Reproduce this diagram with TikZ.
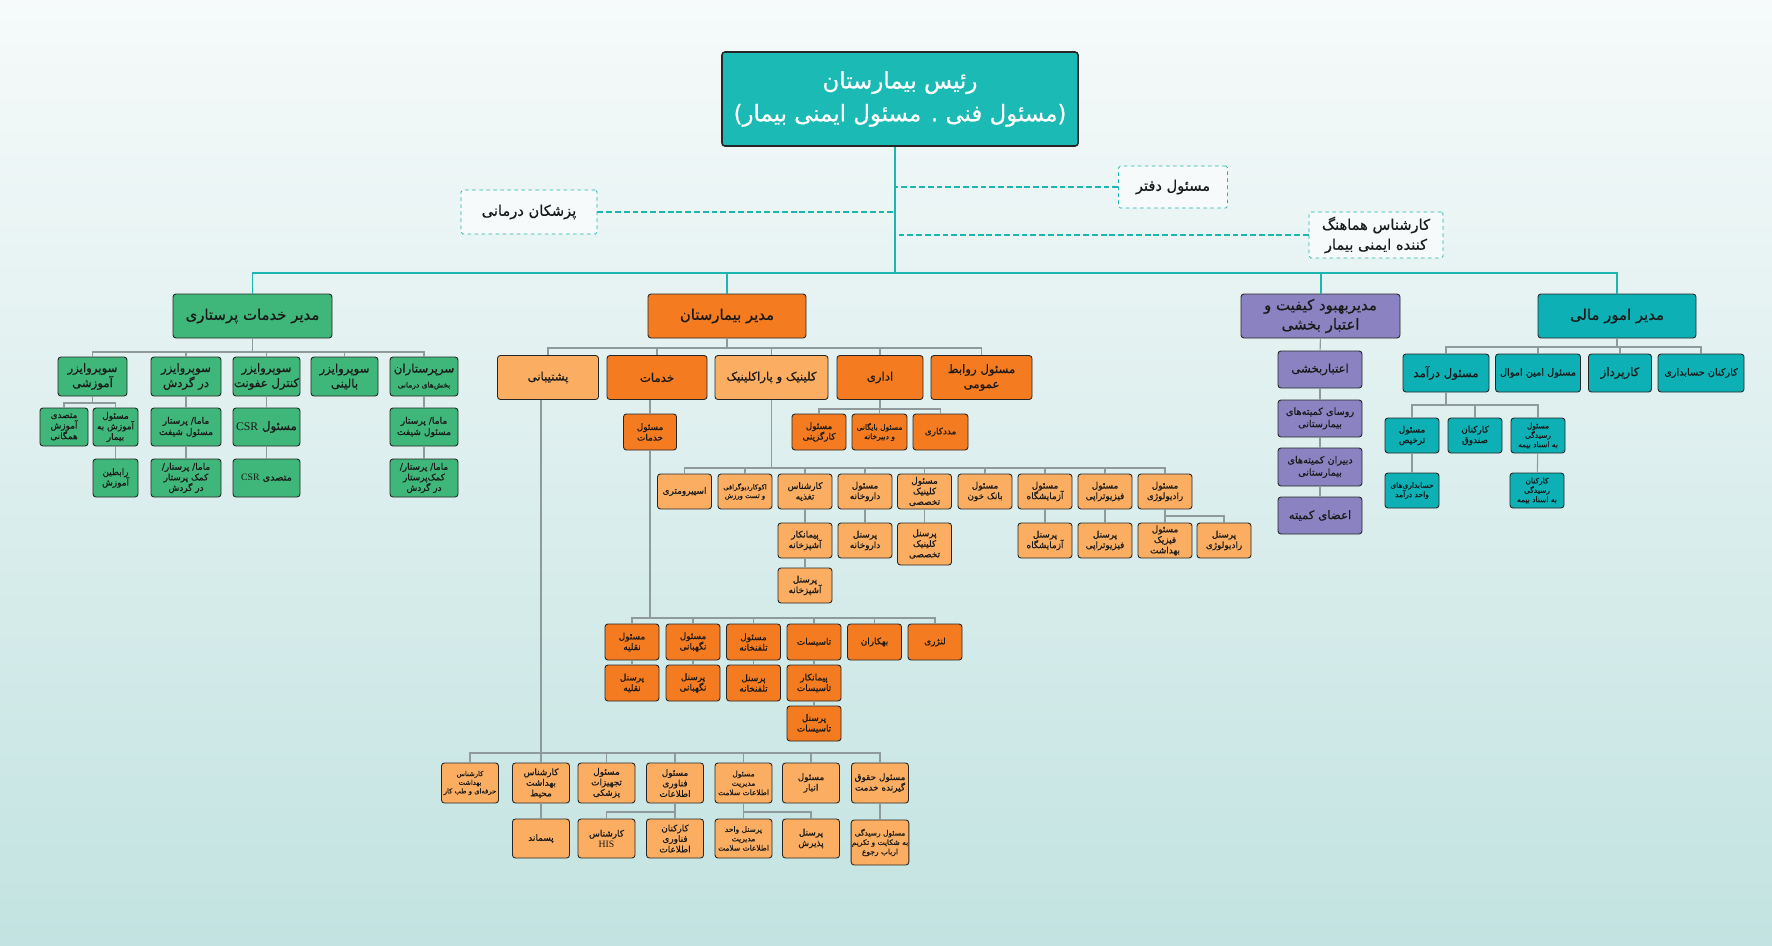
\documentclass[tikz,border=0pt]{standalone}
\usepackage{fontspec}
\setmainfont[Script=Arabic, FakeBold=0.5]{DejaVu Sans}
\newfontfamily\latinfont{Liberation Serif}
\usepackage{tikz}
\usetikzlibrary{positioning}
\TeXXeTstate=1
\newcommand{\fa}[1]{\beginR #1\endR}
\newcommand{\lat}[1]{\beginL{\latinfont #1}\endL}
\newcommand{\ftop}{\fontsize{19.5}{28}\selectfont}
\newcommand{\fdash}{\fontsize{12.5}{17}\selectfont}
\newcommand{\ftwo}{\fontsize{12.7}{16.5}\selectfont}
\newcommand{\fthree}{\fontsize{10}{12.8}\selectfont}
\newcommand{\fmed}{\fontsize{8.3}{10.5}\selectfont}
\newcommand{\fgreen}{\fontsize{7.8}{9.6}\selectfont}
\newcommand{\fsmall}{\fontsize{7.6}{9}\selectfont}
\newcommand{\fmid}{\fontsize{6.4}{8}\selectfont}
\newcommand{\ftiny}{\fontsize{5.8}{7.4}\selectfont}
\definecolor{tealtop}{HTML}{1CBAB4}
\definecolor{tealfin}{HTML}{0DB1B5}
\definecolor{greenbox}{HTML}{3FB67A}
\definecolor{orangedark}{HTML}{F47B20}
\definecolor{orangelight}{HTML}{FBAE61}
\definecolor{purplebox}{HTML}{8B83C1}
\definecolor{linkgray}{HTML}{8E9A9B}
\definecolor{trunkteal}{HTML}{1DB5B0}
\definecolor{bgtop}{HTML}{F6FAFA}
\definecolor{bgbottom}{HTML}{C2E3E1}

\begin{document}
\begin{tikzpicture}[x=0.03cm, y=-0.03cm]
	\tikzstyle{box}=[draw=black!85, line width=0.75pt, rounded corners=2.5pt, align=center, inner sep=0.5pt, text=black!90]
	\tikzstyle{dbox}=[draw=trunkteal, dashed, line width=0.6pt, rounded corners=1.5pt, align=center, fill=bgtop, text=black!90, font=\fdash]
	\tikzstyle{gbox}=[box, fill=greenbox]
	\tikzstyle{odbox}=[box, fill=orangedark]
	\tikzstyle{olbox}=[box, fill=orangelight]
	\tikzstyle{pbox}=[box, fill=purplebox]
	\tikzstyle{tbox}=[box, fill=tealfin]
	\tikzstyle{link}=[draw=linkgray, line width=0.9pt]
	\tikzstyle{trunk}=[draw=trunkteal, line width=1.7pt]
	\tikzstyle{dlink}=[draw=trunkteal, line width=1.7pt, dash pattern=on 5pt off 2.5pt]
	\tikzset{sz/.style 2 args={minimum width=#1*0.03cm, minimum height=#2*0.03cm}}
	\shade[top color=bgtop, bottom color=bgbottom] (0,0) rectangle (1772,945);
	\useasboundingbox (0,0) rectangle (1772,945);

		\node[box, fill=tealtop, text=white, line width=1.3pt, sz={356}{94}, font=\ftop] (head) at (900,99) {\fa{رئیس بیمارستان}\\\fa{(مسئول فنی . مسئول ایمنی بیمار)}};
		\coordinate (hub) at (895,273);
		\node[dbox, sz={109}{42}] (daftar) at (1173,187) {\fa{مسئول دفتر}};
		\node[dbox, sz={136}{44}] (pezeshk) at (529,212) {\fa{پزشکان درمانی}};
		\node[dbox, sz={134}{46}] (hamahang) at (1376,235) {\fa{کارشناس هماهنگ}\\\fa{کننده ایمنی بیمار}};
			\draw[trunk] (head.south -| hub) -- (hub);
			\draw[dlink] (daftar) -- (daftar -| hub);
			\draw[dlink] (pezeshk) -- (pezeshk -| hub);
			\draw[dlink] (hamahang) -- (hamahang -| hub);

		\node[gbox, sz={159}{44}, font=\ftwo] (nurs) at (252.5,316) {\fa{مدیر خدمات پرستاری}};
		\node[odbox, sz={158}{44}, font=\ftwo] (hosp) at (727,316) {\fa{مدیر بیمارستان}};
		\node[pbox, sz={159}{44}, font=\ftwo] (qual) at (1320.5,316) {\fa{مدیربهبود کیفیت و}\\\fa{اعتبار بخشی}};
		\node[tbox, sz={158}{44}, font=\ftwo] (fin) at (1617,316) {\fa{مدیر امور مالی}};
			\draw[trunk] (hub) -| (nurs);
			\draw[trunk] (hub) -| (hosp);
			\draw[trunk] (hub) -| (qual);
			\draw[trunk] (hub) -| (fin);

		% nursing
		\coordinate (gbus) at (0,352);
		\node[gbox, sz={69}{39}, font=\fthree] (sv1) at (92.5,376.5) {\fa{سوپروایزر}\\\fa{آموزشی}};
		\node[gbox, sz={70}{39}, font=\fthree] (sv2) at (186,376.5) {\fa{سوپروایزر}\\\fa{در گردش}};
		\node[gbox, sz={67}{39}, font=\fthree] (sv3) at (266.5,376.5) {\fa{سوپروایزر}\\\fa{کنترل عفونت}};
		\node[gbox, sz={67}{39}, font=\fthree] (sv4) at (344.5,376.5) {\fa{سوپروایزر}\\\fa{بالینی}};
		\node[gbox, sz={68}{39}, font=\fthree] (sv5) at (424,376.5) {\fa{سرپرستاران}\\{\fmid\fa{بخش^^^^200cهای درمانی}}};
			\draw[link] (nurs) -- (nurs |- gbus) -| (sv1);
			\draw[link] (nurs) -- (nurs |- gbus) -| (sv2);
			\draw[link] (nurs) -- (nurs |- gbus) -| (sv3);
			\draw[link] (nurs) -- (nurs |- gbus) -| (sv4);
			\draw[link] (nurs) -- (nurs |- gbus) -| (sv5);
		\coordinate (ebus) at (0,403);
		\node[gbox, sz={48}{38}, font=\fsmall] (edu1) at (64,427) {\fa{متصدی}\\\fa{آموزش}\\\fa{همگانی}};
		\node[gbox, sz={45}{38}, font=\fsmall] (edu2) at (115.5,427) {\fa{مسئول}\\\fa{آموزش به}\\\fa{بیمار}};
		\node[gbox, sz={45}{38}, font=\fsmall] (edu3) at (115.5,478) {\fa{رابطین}\\\fa{آموزش}};
			\draw[link] (sv1) -- (sv1 |- ebus) -| (edu1);
			\draw[link] (sv1) -- (sv1 |- ebus) -| (edu2);
			\draw[link] (edu2) -- (edu3);
		\node[gbox, sz={70}{38}, font=\fgreen] (shift2) at (186,427) {\fa{ماما/ پرستار}\\\fa{مسئول شیفت}};
		\node[gbox, sz={70}{38}, font=\fsmall] (rot2) at (186,478) {\fa{ماما/ پرستار/}\\\fa{کمک پرستار}\\\fa{در گردش}};
			\draw[link] (sv2) -- (shift2);
			\draw[link] (shift2) -- (rot2);
		\node[gbox, sz={67}{38}, font=\fthree] (csr1) at (266.5,427) {\fa{مسئول \lat{CSR}}};
		\node[gbox, sz={67}{38}, font=\fmed] (csr2) at (266.5,478) {\fa{متصدی \lat{CSR}}};
			\draw[link] (sv3) -- (csr1);
			\draw[link] (csr1) -- (csr2);
		\node[gbox, sz={68}{38}, font=\fgreen] (shift5) at (424,427) {\fa{ماما/ پرستار}\\\fa{مسئول شیفت}};
		\node[gbox, sz={68}{38}, font=\fsmall] (rot5) at (424,478) {\fa{ماما/ پرستار/}\\\fa{کمک^^^^200cپرستار}\\\fa{در گردش}};
			\draw[link] (sv5) -- (shift5);
			\draw[link] (shift5) -- (rot5);

		% hospital manager
		\coordinate (obus) at (0,348);
		\node[olbox, sz={101}{44}, font=\fthree] (pusht) at (548,377.5) {\fa{پشتیبانی}};
		\node[odbox, sz={100}{44}, font=\fthree] (khad) at (657,377.5) {\fa{خدمات}};
		\node[olbox, sz={113}{44}, font=\fthree] (clin) at (771.5,377.5) {\fa{کلینیک و پاراکلینیک}};
		\node[odbox, sz={86}{44}, font=\fthree] (edari) at (880,377.5) {\fa{اداری}};
		\node[odbox, sz={101}{44}, font=\fthree] (ravabet) at (981.5,377.5) {\fa{مسئول روابط}\\\fa{عمومی}};
			\draw[link] (hosp) -- (hosp |- obus) -| (pusht);
			\draw[link] (hosp) -- (hosp |- obus) -| (khad);
			\draw[link] (hosp) -- (hosp |- obus) -| (clin);
			\draw[link] (hosp) -- (hosp |- obus) -| (edari);
			\draw[link] (hosp) -- (hosp |- obus) -| (ravabet);
		\node[odbox, sz={53}{36}, font=\fsmall] (maskhad) at (650,432) {\fa{مسئول}\\\fa{خدمات}};
			\draw[link] (khad.south -| maskhad) -- (maskhad);
		\coordinate (adbus) at (0,409);
		\node[odbox, sz={54}{36}, font=\fsmall] (kargozin) at (819,432) {\fa{مسئول}\\\fa{کارگزینی}};
		\node[odbox, sz={55}{36}, font=\fmid] (bayegan) at (879.5,432) {\fa{مسئول بایگانی}\\\fa{و دبیرخانه}};
		\node[odbox, sz={55}{36}, font=\fsmall] (madad) at (940.5,432) {\fa{مددکاری}};
			\draw[link] (edari) -- (edari |- adbus) -| (kargozin);
			\draw[link] (edari) -- (edari |- adbus) -| (bayegan);
			\draw[link] (edari) -- (edari |- adbus) -| (madad);

		% clinic
		\coordinate (cbus) at (0,468);
		\node[olbox, sz={54}{35}, font=\fsmall] (spiro) at (684.5,491.5) {\fa{اسپیرومتری}};
		\node[olbox, sz={54}{35}, font=\ftiny] (echo) at (745,491.5) {\fa{اکوکاردیوگرافی}\\\fa{و تست ورزش}};
		\node[olbox, sz={54}{35}, font=\fsmall] (taghz) at (805,491.5) {\fa{کارشناس}\\\fa{تغذیه}};
		\node[olbox, sz={54}{35}, font=\fsmall] (daru) at (865,491.5) {\fa{مسئول}\\\fa{داروخانه}};
		\node[olbox, sz={54}{35}, font=\fsmall] (klinik) at (924.5,491.5) {\fa{مسئول}\\\fa{کلینیک}\\\fa{تخصصی}};
		\node[olbox, sz={54}{35}, font=\fsmall] (khun) at (985,491.5) {\fa{مسئول}\\\fa{بانک خون}};
		\node[olbox, sz={54}{35}, font=\fsmall] (azma) at (1045,491.5) {\fa{مسئول}\\\fa{آزمایشگاه}};
		\node[olbox, sz={54}{35}, font=\fsmall] (fizio) at (1105,491.5) {\fa{مسئول}\\\fa{فیزیوتراپی}};
		\node[olbox, sz={54}{35}, font=\fsmall] (radio) at (1165,491.5) {\fa{مسئول}\\\fa{رادیولوژی}};
			\draw[link] (clin) -- (clin |- cbus) -| (spiro);
			\draw[link] (clin) -- (clin |- cbus) -| (echo);
			\draw[link] (clin) -- (clin |- cbus) -| (taghz);
			\draw[link] (clin) -- (clin |- cbus) -| (daru);
			\draw[link] (clin) -- (clin |- cbus) -| (klinik);
			\draw[link] (clin) -- (clin |- cbus) -| (khun);
			\draw[link] (clin) -- (clin |- cbus) -| (azma);
			\draw[link] (clin) -- (clin |- cbus) -| (fizio);
			\draw[link] (clin) -- (clin |- cbus) -| (radio);
		\node[olbox, sz={54}{35}, font=\fsmall] (peyash) at (805,540.5) {\fa{پیمانکار}\\\fa{آشپزخانه}};
		\node[olbox, sz={54}{35}, font=\fsmall] (persash) at (805,585.5) {\fa{پرسنل}\\\fa{آشپزخانه}};
		\node[olbox, sz={54}{35}, font=\fsmall] (persdaru) at (865,540.5) {\fa{پرسنل}\\\fa{داروخانه}};
		\node[olbox, sz={54}{42}, font=\fsmall] (persklinik) at (924.5,544) {\fa{پرسنل}\\\fa{کلینیک}\\\fa{تخصصی}};
		\node[olbox, sz={54}{35}, font=\fsmall] (persazma) at (1045,540.5) {\fa{پرسنل}\\\fa{آزمایشگاه}};
		\node[olbox, sz={54}{35}, font=\fsmall] (persfizio) at (1105,540.5) {\fa{پرسنل}\\\fa{فیزیوتراپی}};
		\node[olbox, sz={54}{35}, font=\fsmall] (fizik) at (1165,540.5) {\fa{مسئول}\\\fa{فیزیک}\\\fa{بهداشت}};
		\node[olbox, sz={54}{35}, font=\fsmall] (persradio) at (1224,540.5) {\fa{پرسنل}\\\fa{رادیولوژی}};
		\coordinate (rbus) at (0,516);
			\draw[link] (taghz) -- (peyash);
			\draw[link] (peyash) -- (persash);
			\draw[link] (daru) -- (persdaru);
			\draw[link] (klinik) -- (persklinik);
			\draw[link] (azma) -- (persazma);
			\draw[link] (fizio) -- (persfizio);
			\draw[link] (radio) -- (fizik);
			\draw[link] (radio) -- (radio |- rbus) -| (persradio);

		% services
		\coordinate (sbus) at (0,618);
		\node[odbox, sz={54}{36}, font=\fsmall] (naghl) at (632,642) {\fa{مسئول}\\\fa{نقلیه}};
		\node[odbox, sz={54}{36}, font=\fsmall] (negah) at (693,642) {\fa{مسئول}\\\fa{نگهبانی}};
		\node[odbox, sz={54}{36}, font=\fsmall] (telef) at (753.5,642) {\fa{مسئول}\\\fa{تلفنخانه}};
		\node[odbox, sz={54}{36}, font=\fsmall] (tasis) at (814,642) {\fa{تاسیسات}};
		\node[odbox, sz={54}{36}, font=\fsmall] (behkar) at (874.5,642) {\fa{بهکاران}};
		\node[odbox, sz={54}{36}, font=\fsmall] (lenzh) at (935,642) {\fa{لنژری}};
			\draw[link] (maskhad) -- (maskhad |- sbus) -| (naghl);
			\draw[link] (maskhad) -- (maskhad |- sbus) -| (negah);
			\draw[link] (maskhad) -- (maskhad |- sbus) -| (telef);
			\draw[link] (maskhad) -- (maskhad |- sbus) -| (tasis);
			\draw[link] (maskhad) -- (maskhad |- sbus) -| (behkar);
			\draw[link] (maskhad) -- (maskhad |- sbus) -| (lenzh);
		\node[odbox, sz={54}{36}, font=\fsmall] (persnaghl) at (632,683) {\fa{پرسنل}\\\fa{نقلیه}};
		\node[odbox, sz={54}{36}, font=\fsmall] (persnegah) at (693,683) {\fa{پرسنل}\\\fa{نگهبانی}};
		\node[odbox, sz={54}{36}, font=\fsmall] (perstelef) at (753.5,683) {\fa{پرسنل}\\\fa{تلفنخانه}};
		\node[odbox, sz={54}{36}, font=\fsmall] (peytasis) at (814,683) {\fa{پیمانکار}\\\fa{تاسیسات}};
		\node[odbox, sz={54}{35}, font=\fsmall] (perstasis) at (814,723.5) {\fa{پرسنل}\\\fa{تاسیسات}};
			\draw[link] (naghl) -- (persnaghl);
			\draw[link] (negah) -- (persnegah);
			\draw[link] (telef) -- (perstelef);
			\draw[link] (tasis) -- (peytasis);
			\draw[link] (peytasis) -- (perstasis);

		% support
		\coordinate (pbus) at (0,753);
		\node[olbox, sz={57}{40}, font=\ftiny] (herfe) at (470,783) {\fa{کارشناس}\\\fa{بهداشت}\\\fa{حرفه^^^^200cای و طب کار}};
		\node[olbox, sz={57}{40}, font=\fsmall] (mohit) at (541,783) {\fa{کارشناس}\\\fa{بهداشت}\\\fa{محیط}};
		\node[olbox, sz={57}{40}, font=\fsmall] (tajhiz) at (606.5,783) {\fa{مسئول}\\\fa{تجهیزات}\\\fa{پزشکی}};
		\node[olbox, sz={57}{40}, font=\fsmall] (fanav) at (675,783) {\fa{مسئول}\\\fa{فناوری}\\\fa{اطلاعات}};
		\node[olbox, sz={57}{40}, font=\fmid] (salamat) at (743.5,783) {\fa{مسئول}\\\fa{مدیریت}\\\fa{اطلاعات سلامت}};
		\node[olbox, sz={57}{40}, font=\fsmall] (anbar) at (811,783) {\fa{مسئول}\\\fa{انبار}};
		\node[olbox, sz={57}{40}, font=\fsmall] (hoghugh) at (880,783) {\fa{مسئول حقوق}\\\fa{گیرنده خدمت}};
			\draw[link] (pusht.south -| mohit) -- (mohit |- pbus) -| (herfe);
			\draw[link] (pusht.south -| mohit) -- (mohit |- pbus) -| (mohit);
			\draw[link] (pusht.south -| mohit) -- (mohit |- pbus) -| (tajhiz);
			\draw[link] (pusht.south -| mohit) -- (mohit |- pbus) -| (fanav);
			\draw[link] (pusht.south -| mohit) -- (mohit |- pbus) -| (salamat);
			\draw[link] (pusht.south -| mohit) -- (mohit |- pbus) -| (anbar);
			\draw[link] (pusht.south -| mohit) -- (mohit |- pbus) -| (hoghugh);
		\coordinate (kbus) at (0,812);
		\node[olbox, sz={57}{39}, font=\fsmall] (pasmand) at (541,838.5) {\fa{پسماند}};
		\node[olbox, sz={57}{39}, font=\fsmall] (his) at (606.5,838.5) {\fa{کارشناس}\\{\fmed\lat{HIS}}};
		\node[olbox, sz={57}{39}, font=\fsmall] (karfan) at (675,838.5) {\fa{کارکنان}\\\fa{فناوری}\\\fa{اطلاعات}};
		\node[olbox, sz={57}{39}, font=\fmid] (perssal) at (743.5,838.5) {\fa{پرسنل واحد}\\\fa{مدیریت}\\\fa{اطلاعات سلامت}};
		\node[olbox, sz={57}{39}, font=\fsmall] (pazir) at (811,838.5) {\fa{پرسنل}\\\fa{پذیرش}};
		\node[olbox, sz={57}{45}, font=\fmid] (shekayat) at (880,842.5) {\fa{مسئول رسیدگی}\\\fa{به شکایت و تکریم}\\\fa{ارباب رجوع}};
			\draw[link] (mohit) -- (pasmand);
			\draw[link] (fanav) -- (fanav |- kbus) -| (his);
			\draw[link] (fanav) -- (karfan);
			\draw[link] (salamat) -- (salamat |- kbus) -| (perssal);
			\draw[link] (salamat) -- (salamat |- kbus) -| (pazir);
			\draw[link] (hoghugh) -- (shekayat);

		% quality
		\node[pbox, sz={84}{37}, font=\fthree] (etebar) at (1320,369.5) {\fa{اعتباربخشی}};
		\node[pbox, sz={84}{37}, font=\fmed] (roasa) at (1320,418.5) {\fa{روسای کمیته^^^^200cهای}\\\fa{بیمارستانی}};
		\node[pbox, sz={84}{38}, font=\fmed] (dabiran) at (1320,467) {\fa{دبیران کمیته^^^^200cهای}\\\fa{بیمارستانی}};
		\node[pbox, sz={84}{37}, font=\fthree] (azae) at (1320,515.5) {\fa{اعضای کمیته}};
			\draw[link] (qual) -- (etebar);
			\draw[link] (etebar) -- (roasa);
			\draw[link] (roasa) -- (dabiran);
			\draw[link] (dabiran) -- (azae);

		% finance
		\coordinate (fbus) at (0,347);
		\node[tbox, sz={86}{38}, font=\fthree] (daramad) at (1446,373) {\fa{مسئول درآمد}};
		\node[tbox, sz={85}{38}, font=\fmed] (amin) at (1538,373) {\fa{مسئول امین اموال}};
		\node[tbox, sz={63}{38}, font=\fthree] (karpard) at (1620,373) {\fa{کارپرداز}};
		\node[tbox, sz={86}{38}, font=\fmed] (hesab) at (1701,373) {\fa{کارکنان حسابداری}};
			\draw[link] (fin) -- (fin |- fbus) -| (daramad);
			\draw[link] (fin) -- (fin |- fbus) -| (amin);
			\draw[link] (fin) -- (fin |- fbus) -| (karpard);
			\draw[link] (fin) -- (fin |- fbus) -| (hesab);
		\coordinate (dbus) at (0,405);
		\node[tbox, sz={54}{35}, font=\fsmall] (tarkhis) at (1412,435.5) {\fa{مسئول}\\\fa{ترخیص}};
		\node[tbox, sz={54}{35}, font=\fsmall] (sandugh) at (1475,435.5) {\fa{کارکنان}\\\fa{صندوق}};
		\node[tbox, sz={54}{35}, font=\fmid] (bimeh) at (1538,435.5) {\fa{مسئول}\\\fa{رسیدگی}\\\fa{به اسناد بیمه}};
		\node[tbox, sz={54}{35}, font=\fmid] (hesabvahed) at (1412,490.5) {\fa{حسابداری^^^^200cهای}\\\fa{واحد درآمد}};
		\node[tbox, sz={54}{35}, font=\fmid] (karbimeh) at (1537,490.5) {\fa{کارکنان}\\\fa{رسیدگی}\\\fa{به اسناد بیمه}};
			\draw[link] (daramad) -- (daramad |- dbus) -| (tarkhis);
			\draw[link] (daramad) -- (daramad |- dbus) -| (sandugh);
			\draw[link] (daramad) -- (daramad |- dbus) -| (bimeh);
			\draw[link] (tarkhis) -- (hesabvahed);
			\draw[link] (bimeh) -- (karbimeh);
\end{tikzpicture}
\end{document}
